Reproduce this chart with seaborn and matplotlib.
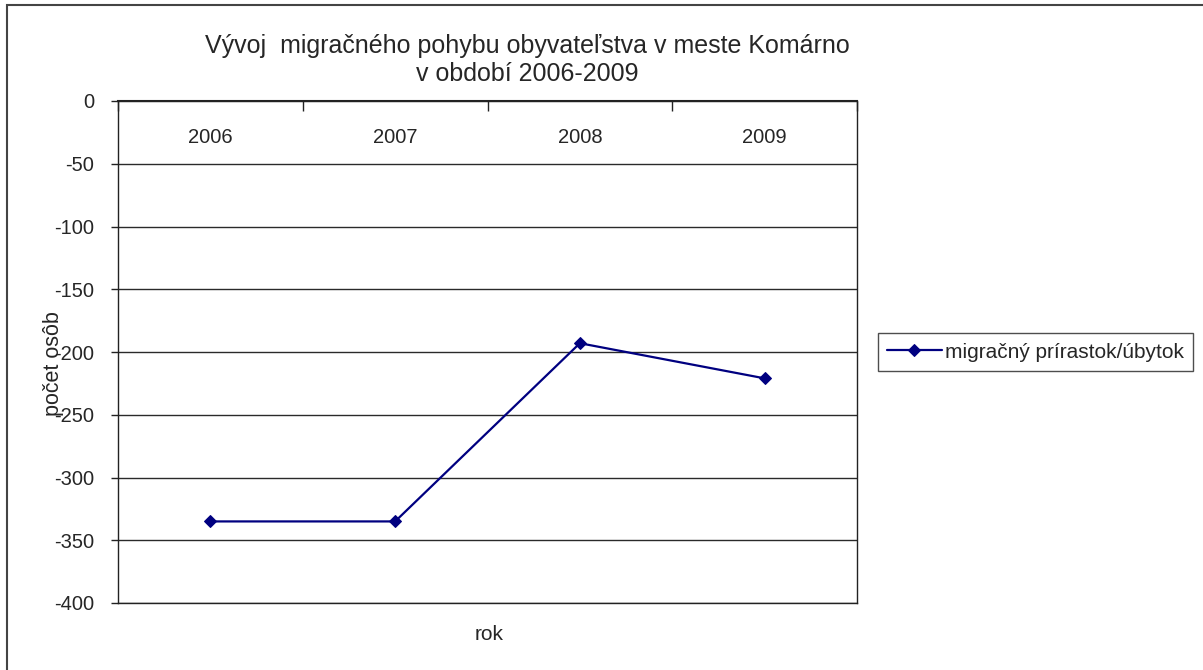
import matplotlib
matplotlib.use("Agg")
import matplotlib.pyplot as plt
import matplotlib.patches as patches
import seaborn as sns
import pandas as pd

# data
years = ["2006", "2007", "2008", "2009"]
migration = [-335, -335, -193, -221]
series_name = "migračný prírastok/úbytok"

sns.set_style("white")
plt.rcParams["font.family"] = ["Liberation Sans", "DejaVu Sans"]
plt.rcParams["axes.unicode_minus"] = False

df = pd.DataFrame({"rok": years, "value": migration})

fig = plt.figure(figsize=(12.03, 6.70), dpi=100)
ax = fig.add_axes([118 / 1203, 1 - 603 / 670, (857 - 118) / 1203, (603 - 101) / 670])

sns.lineplot(data=df, x="rok", y="value", ax=ax, color="#000080", marker="D",
             markersize=6, markeredgecolor="#000080", linewidth=1.6,
             sort=False, label=series_name)

# y axis
ax.set_ylim(-400, 0)
ax.set_yticks(range(-400, 1, 50))
ax.yaxis.grid(True, color="#2a2a2a", linewidth=1)
ax.set_axisbelow(True)
ax.tick_params(axis="y", direction="out", length=5, width=1, color="#222222",
               labelsize=14.5, pad=12, left=True)

# x axis: labels inside, just under the 0 line
ax.set_xlim(-0.5, 3.5)
ax.set_xticks(range(len(years)))
ax.set_xticklabels(years)
ax.set_xticks([i - 0.5 for i in range(len(years) + 1)], minor=True)
ax.tick_params(axis="x", which="major", top=True, bottom=False, labeltop=True,
               labelbottom=False, length=0, pad=-33, labelsize=14.5)
ax.tick_params(axis="x", which="minor", top=True, bottom=False, direction="in",
               length=7, width=1, color="#222222")

for s in ["left", "right", "top", "bottom"]:
    ax.spines[s].set_visible(True)
    ax.spines[s].set_color("#222222")
    ax.spines[s].set_linewidth(1)
ax.spines["top"].set_linewidth(1.5)

ax.set_xlabel("")
ax.set_ylabel("")

# axis titles placed like in the original (y title overlaps the tick labels there too)
fig.text(53 / 1203, 1 - 364 / 670, "počet osôb", rotation=90, fontsize=15.5,
         ha="center", va="center")
fig.text(489 / 1203, 1 - 635 / 670, "rok", fontsize=15, ha="center", va="center")

fig.text(527 / 1203, 1 - 60 / 670,
         "Vývoj  migračného pohybu obyvateľstva v meste Komárno\nv období 2006-2009",
         fontsize=18, ha="center", va="center", linespacing=1.2)

leg = ax.legend(loc="center left", bbox_to_anchor=(878 / 1203, 1 - 352 / 670),
                bbox_transform=fig.transFigure, fontsize=15, frameon=True,
                fancybox=False, edgecolor="#222222", borderpad=0.45,
                handlelength=2.6, handletextpad=0.15, borderaxespad=0)
leg.get_frame().set_linewidth(1)

# outer chart frame (only left and top edges fall inside the picture)
frame = patches.Rectangle((7 / 1203, -0.2), 1.2, 1.2 - 5 / 670, transform=fig.transFigure,
                          fill=False, edgecolor="#444444", linewidth=1.5, clip_on=False)
fig.add_artist(frame)

fig.savefig("out.png", dpi=100, facecolor="white")
